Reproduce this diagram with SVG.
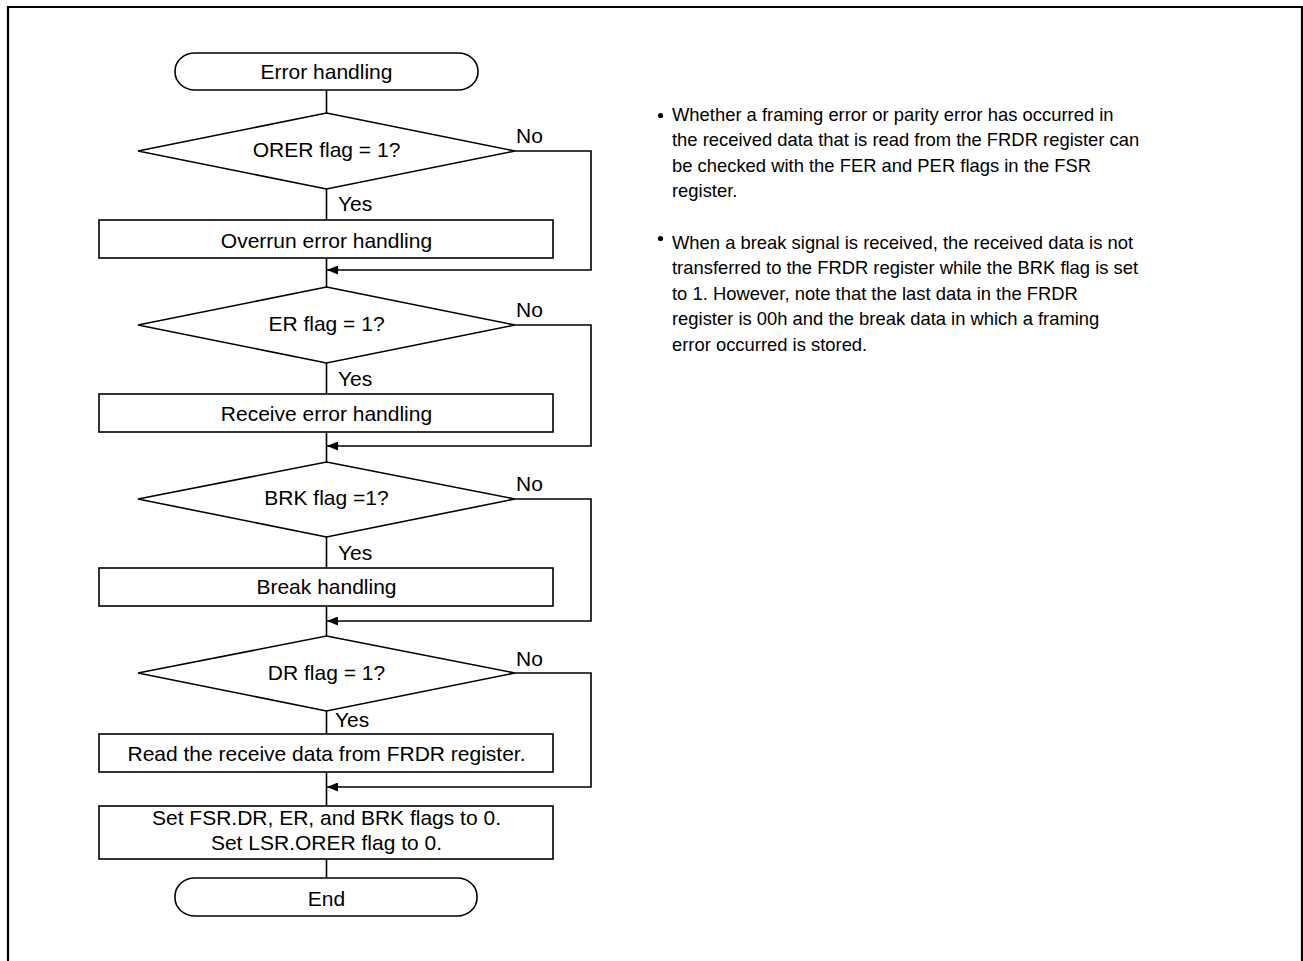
<svg xmlns="http://www.w3.org/2000/svg" width="1303" height="961" viewBox="0 0 1303 961">
<style>
.shape{fill:#fff;stroke:#000;stroke-width:1.6}
.conn{fill:none;stroke:#000;stroke-width:1.6}
.t{font-family:"Liberation Sans",Arial,sans-serif;font-size:21px;fill:#000;text-anchor:middle}
.l{font-family:"Liberation Sans",Arial,sans-serif;font-size:21px;fill:#000}
.n{font-family:"Liberation Sans",Arial,sans-serif;font-size:18.4px;fill:#000}
</style>
<defs>
<marker id="ah" markerWidth="11" markerHeight="9" refX="11" refY="4.5" orient="auto" markerUnits="userSpaceOnUse">
<path d="M0,0 L11,4.5 L0,9 Z" fill="#000"/>
</marker>
</defs>
<rect width="1303" height="961" fill="#fff"/>
<path d="M8,961 V7 H1302 V961" fill="none" stroke="#000" stroke-width="2.2"/>

<g id="connectors">
<path class="conn" d="M326.5,90 V113"/>
<path class="conn" d="M326.5,189 V220"/>
<path class="conn" d="M326.5,258 V287"/>
<path class="conn" d="M515,151 H591 V270 H327" marker-end="url(#ah)"/>
<path class="conn" d="M326.5,363 V394"/>
<path class="conn" d="M326.5,432 V462"/>
<path class="conn" d="M515,325 H591 V446 H327" marker-end="url(#ah)"/>
<path class="conn" d="M326.5,537 V568"/>
<path class="conn" d="M326.5,606 V636"/>
<path class="conn" d="M515,499 H591 V621 H327" marker-end="url(#ah)"/>
<path class="conn" d="M326.5,711 V734"/>
<path class="conn" d="M326.5,772 V806"/>
<path class="conn" d="M515,673 H591 V787 H327" marker-end="url(#ah)"/>
<path class="conn" d="M326.5,859 V878"/>
<text class="l" x="516" y="143">No</text>
<text class="l" x="338" y="211">Yes</text>
<text class="l" x="516" y="317">No</text>
<text class="l" x="338" y="386">Yes</text>
<text class="l" x="516" y="491">No</text>
<text class="l" x="338" y="560">Yes</text>
<text class="l" x="516" y="666">No</text>
<text class="l" x="335" y="727">Yes</text>
</g>

<g id="start">
<rect class="shape" x="175" y="53" width="303" height="37" rx="20" ry="18"/>
<text class="t" x="326.5" y="79">Error handling</text>
</g>
<g id="dec-orer">
<polygon class="shape" points="326.5,113 515,151 326.5,189 138,151"/>
<text class="t" x="326.5" y="157">ORER flag = 1?</text>
</g>
<g id="proc-overrun">
<rect class="shape" x="99" y="220" width="454" height="38"/>
<text class="t" x="326.5" y="248">Overrun error handling</text>
</g>
<g id="dec-er">
<polygon class="shape" points="326.5,287 515,325 326.5,363 138,325"/>
<text class="t" x="326.5" y="331">ER flag = 1?</text>
</g>
<g id="proc-receive">
<rect class="shape" x="99" y="394" width="454" height="38"/>
<text class="t" x="326.5" y="421">Receive error handling</text>
</g>
<g id="dec-brk">
<polygon class="shape" points="326.5,462 515,499 326.5,537 138,499"/>
<text class="t" x="326.5" y="505">BRK flag =1?</text>
</g>
<g id="proc-break">
<rect class="shape" x="99" y="568" width="454" height="38"/>
<text class="t" x="326.5" y="594">Break handling</text>
</g>
<g id="dec-dr">
<polygon class="shape" points="326.5,636 515,673 326.5,711 138,673"/>
<text class="t" x="326.5" y="680">DR flag = 1?</text>
</g>
<g id="proc-read">
<rect class="shape" x="99" y="734" width="454" height="38"/>
<text class="t" x="326.5" y="761">Read the receive data from FRDR register.</text>
</g>
<g id="proc-clear">
<rect class="shape" x="99" y="806" width="454" height="53"/>
<text class="t" x="326.5" y="825">Set FSR.DR, ER, and BRK flags to 0.</text>
<text class="t" x="326.5" y="850">Set LSR.ORER flag to 0.</text>
</g>
<g id="end">
<rect class="shape" x="175" y="878" width="302" height="38" rx="20" ry="18"/>
<text class="t" x="326.5" y="906">End</text>
</g>

<g id="notes">
<circle cx="660.5" cy="115.5" r="2.6" fill="#000"/>
<text class="n" x="672" y="121">Whether a framing error or parity error has occurred in</text>
<text class="n" x="672" y="146">the received data that is read from the FRDR register can</text>
<text class="n" x="672" y="172">be checked with the FER and PER flags in the FSR</text>
<text class="n" x="672" y="197">register.</text>
<circle cx="660.5" cy="238.5" r="2.6" fill="#000"/>
<text class="n" x="672" y="249">When a break signal is received, the received data is not</text>
<text class="n" x="672" y="274">transferred to the FRDR register while the BRK flag is set</text>
<text class="n" x="672" y="300">to 1. However, note that the last data in the FRDR</text>
<text class="n" x="672" y="325">register is 00h and the break data in which a framing</text>
<text class="n" x="672" y="351">error occurred is stored.</text>
</g>
</svg>
